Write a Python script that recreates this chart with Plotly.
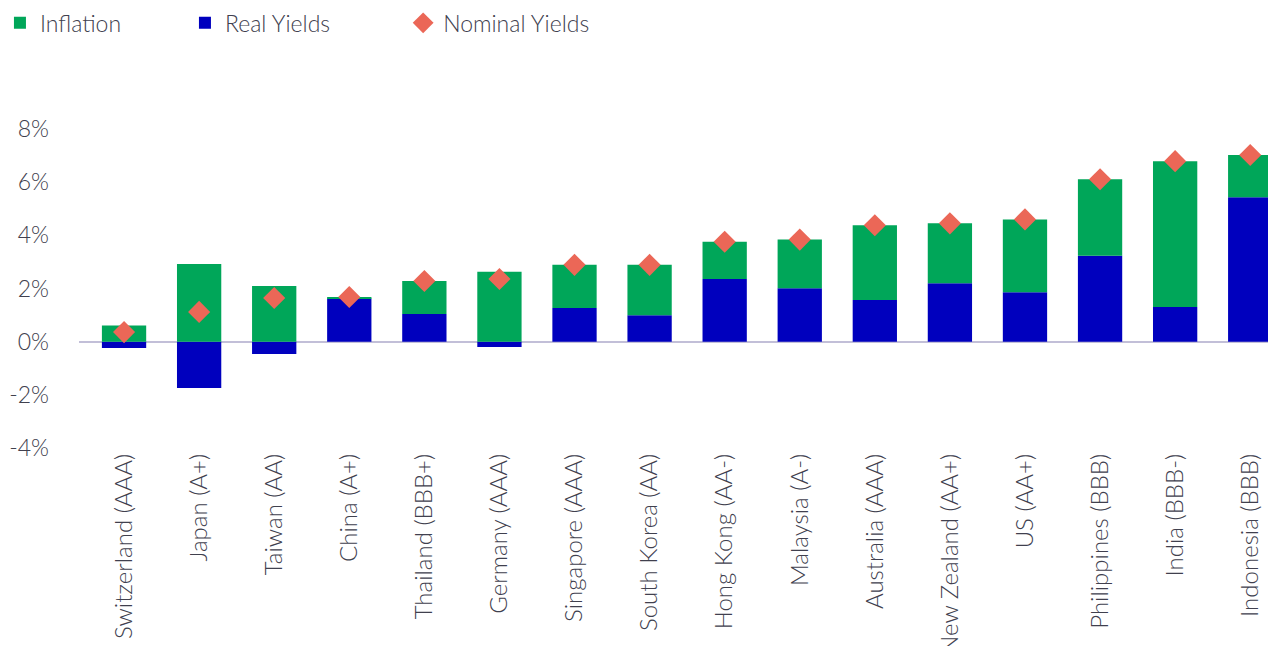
import plotly.graph_objects as go

countries = ["Switzerland (AAA)", "Japan (A+)", "Taiwan (AA)", "China (A+)", "Thailand (BBB+)",
             "Germany (AAA)", "Singapore (AAA)", "South Korea (AA)", "Hong Kong (AA-)", "Malaysia (A-)",
             "Australia (AAA)", "New Zealand (AA+)", "US (AA+)", "Philippines (BBB)", "India (BBB-)",
             "Indonesia (BBB)"]
real_yields = [-0.24, -1.74, -0.46, 1.62, 1.04, -0.20, 1.27, 0.99, 2.36, 2.01, 1.57, 2.20, 1.86, 3.23, 1.30, 5.43]
inflation = [0.61, 2.92, 2.09, 0.06, 1.24, 2.63, 1.62, 1.90, 1.40, 1.83, 2.81, 2.25, 2.74, 2.88, 5.49, 1.59]
nominal_yields = [0.36, 1.12, 1.64, 1.68, 2.28, 2.36, 2.89, 2.89, 3.76, 3.84, 4.38, 4.45, 4.60, 6.11, 6.79, 7.02]
y_ticks = [-4, -2, 0, 2, 4, 6, 8]
y_tick_labels = ["-4%", "-2%", "0%", "2%", "4%", "6%", "8%"]

GREEN = "#00A659"
BLUE = "#0000BE"
SALMON = "#EB6757"
TEXT = "#40404e"
FONT = "Lato"

fig = go.Figure()
fig.add_trace(go.Bar(x=countries, y=real_yields, name="Real Yields", marker_color=BLUE,
                     marker_line_width=0, legendrank=2))
fig.add_trace(go.Bar(x=countries, y=inflation, name="Inflation", marker_color=GREEN,
                     marker_line_width=0, legendrank=1))
fig.add_trace(go.Scatter(x=countries, y=nominal_yields, name="Nominal Yields", mode="markers",
                         marker=dict(symbol="diamond", size=17, color=SALMON), legend="legend2"))

legend_font = dict(family=FONT, size=23, color=TEXT, weight=300)
fig.update_layout(
    width=1276, height=646,
    barmode="relative",
    bargap=0.41,
    plot_bgcolor="white", paper_bgcolor="white",
    margin=dict(l=71, r=0, t=121, b=206, autoexpand=False),
    font=dict(family=FONT, size=22, color=TEXT, weight=300),
    legend=dict(orientation="h", xref="paper", yref="container", x=-0.0656, y=0.977,
                xanchor="left", yanchor="middle", entrywidth=140, entrywidthmode="pixels",
                font=legend_font, traceorder="normal", itemwidth=30),
    legend2=dict(orientation="h", xref="paper", yref="container", x=0.269, y=0.977,
                 xanchor="left", yanchor="middle", font=legend_font, itemwidth=30),
    xaxis=dict(range=[-0.6, 15.45], tickangle=-90, showgrid=False, showline=False, zeroline=False,
               ticks="", automargin=False, tickfont=dict(family=FONT, size=24, color=TEXT, weight=300)),
    yaxis=dict(range=[-4, 8], tickvals=y_ticks, ticktext=y_tick_labels, showgrid=False,
               zeroline=True, zerolinecolor="#c2bfd8", zerolinewidth=1.5, showline=False,
               automargin=False, ticks="", ticklabelstandoff=29,
               tickfont=dict(family=FONT, size=23, color=TEXT, weight=300)),
)

fig.write_html("out.html")
